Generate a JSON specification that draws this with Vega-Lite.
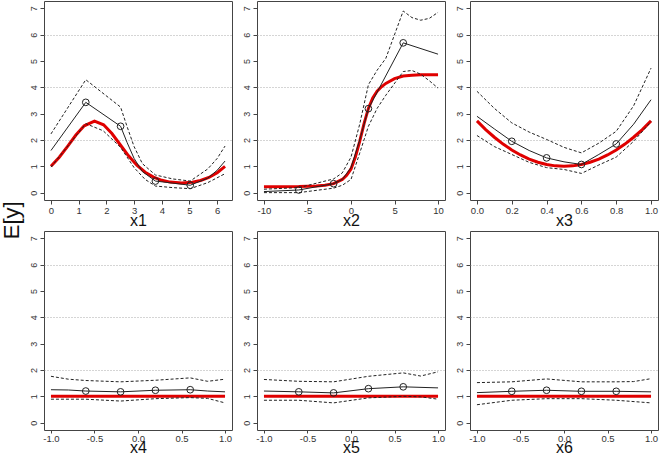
{
  "$schema": "https://vega.github.io/schema/vega-lite/v6.json",
  "padding": {"left": 0, "top": 0, "right": 0, "bottom": 0},
  "background": "white",
  "title": {"text": "E[y]", "orient": "left", "anchor": "middle", "fontSize": 22, "fontWeight": "normal", "font": "Liberation Sans", "color": "#111", "offset": 5, "dx": 8},
  "config": {
    "font": "Liberation Sans",
    "view": {"stroke": "#444", "strokeWidth": 1},
    "axis": {"domain": false, "tickColor": "#444", "tickSize": 4, "labelColor": "#333", "titleFontWeight": "normal", "titleColor": "#111", "labelFont": "Liberation Sans", "titleFont": "Liberation Sans"},
    "axisX": {"grid": false, "labelFontSize": 9.5, "labelPadding": 1, "titleFontSize": 16, "titlePadding": -2, "labelFlush": false, "labelExpr": "replace(datum.label, '\u2212', '-')"},
    "axisY": {"labelFontSize": 9, "labelAngle": -90, "labelPadding": 2, "gridColor": "#aaa", "gridDash": [1, 2], "gridWidth": 1}
  },
  "datasets": {
    "p1": [
      {"s": "true", "x": 0, "y": 1.0}, {"s": "true", "x": 0.3, "y": 1.344}, {"s": "true", "x": 0.6, "y": 1.759}, {"s": "true", "x": 0.9, "y": 2.189}, {"s": "true", "x": 1.2, "y": 2.54}, {"s": "true", "x": 1.571, "y": 2.718}, {"s": "true", "x": 1.9, "y": 2.576}, {"s": "true", "x": 2.2, "y": 2.245}, {"s": "true", "x": 2.5, "y": 1.819}, {"s": "true", "x": 2.8, "y": 1.398}, {"s": "true", "x": 3.1, "y": 1.042}, {"s": "true", "x": 3.4, "y": 0.775}, {"s": "true", "x": 3.7, "y": 0.589}, {"s": "true", "x": 4.0, "y": 0.469}, {"s": "true", "x": 4.3, "y": 0.4}, {"s": "true", "x": 4.712, "y": 0.368}, {"s": "true", "x": 5.1, "y": 0.396}, {"s": "true", "x": 5.4, "y": 0.462}, {"s": "true", "x": 5.7, "y": 0.577}, {"s": "true", "x": 6.0, "y": 0.756}, {"s": "true", "x": 6.283, "y": 1.0},
      {"s": "est", "x": 0, "y": 1.6}, {"s": "est", "x": 1.257, "y": 3.43}, {"s": "est", "x": 2.513, "y": 2.52}, {"s": "est", "x": 2.75, "y": 1.9}, {"s": "est", "x": 3.0, "y": 1.3}, {"s": "est", "x": 3.3, "y": 0.8}, {"s": "est", "x": 3.77, "y": 0.44}, {"s": "est", "x": 4.4, "y": 0.36}, {"s": "est", "x": 5.027, "y": 0.28}, {"s": "est", "x": 5.66, "y": 0.55}, {"s": "est", "x": 6.0, "y": 0.85}, {"s": "est", "x": 6.283, "y": 1.2},
      {"s": "hi", "x": 0, "y": 2.23}, {"s": "hi", "x": 1.257, "y": 4.29}, {"s": "hi", "x": 2.513, "y": 3.25}, {"s": "hi", "x": 2.75, "y": 2.5}, {"s": "hi", "x": 3.0, "y": 1.75}, {"s": "hi", "x": 3.3, "y": 1.1}, {"s": "hi", "x": 3.77, "y": 0.67}, {"s": "hi", "x": 4.4, "y": 0.52}, {"s": "hi", "x": 5.027, "y": 0.44}, {"s": "hi", "x": 5.66, "y": 0.9}, {"s": "hi", "x": 6.0, "y": 1.3}, {"s": "hi", "x": 6.283, "y": 1.77},
      {"s": "lo", "x": 0, "y": 0.97}, {"s": "lo", "x": 1.257, "y": 2.62}, {"s": "lo", "x": 1.885, "y": 2.35}, {"s": "lo", "x": 2.513, "y": 1.72}, {"s": "lo", "x": 3.0, "y": 0.95}, {"s": "lo", "x": 3.4, "y": 0.5}, {"s": "lo", "x": 3.77, "y": 0.25}, {"s": "lo", "x": 4.4, "y": 0.19}, {"s": "lo", "x": 5.027, "y": 0.15}, {"s": "lo", "x": 5.66, "y": 0.38}, {"s": "lo", "x": 6.283, "y": 0.72},
      {"s": "pt", "x": 1.257, "y": 3.43}, {"s": "pt", "x": 2.513, "y": 2.52}, {"s": "pt", "x": 3.77, "y": 0.44}, {"s": "pt", "x": 5.027, "y": 0.28}
    ],
    "p2": [
      {"s": "true", "x": -10, "y": 0.22}, {"s": "true", "x": -6, "y": 0.23}, {"s": "true", "x": -4, "y": 0.25}, {"s": "true", "x": -3, "y": 0.28}, {"s": "true", "x": -2, "y": 0.34}, {"s": "true", "x": -1, "y": 0.5}, {"s": "true", "x": -0.5, "y": 0.66}, {"s": "true", "x": 0, "y": 0.9}, {"s": "true", "x": 0.5, "y": 1.35}, {"s": "true", "x": 1, "y": 1.95}, {"s": "true", "x": 1.5, "y": 2.62}, {"s": "true", "x": 2, "y": 3.2}, {"s": "true", "x": 2.5, "y": 3.6}, {"s": "true", "x": 3, "y": 3.85}, {"s": "true", "x": 3.5, "y": 4.02}, {"s": "true", "x": 4, "y": 4.15}, {"s": "true", "x": 5, "y": 4.33}, {"s": "true", "x": 6, "y": 4.43}, {"s": "true", "x": 7, "y": 4.46}, {"s": "true", "x": 8, "y": 4.48}, {"s": "true", "x": 10, "y": 4.48},
      {"s": "est", "x": -10, "y": 0.04}, {"s": "est", "x": -6, "y": 0.1}, {"s": "est", "x": -2, "y": 0.34}, {"s": "est", "x": -1, "y": 0.5}, {"s": "est", "x": 0, "y": 0.95}, {"s": "est", "x": 1, "y": 2.0}, {"s": "est", "x": 2, "y": 3.19}, {"s": "est", "x": 6, "y": 5.69}, {"s": "est", "x": 10, "y": 5.26},
      {"s": "hi", "x": -10, "y": 0.13}, {"s": "hi", "x": -6, "y": 0.19}, {"s": "hi", "x": -2, "y": 0.52}, {"s": "hi", "x": -1, "y": 0.75}, {"s": "hi", "x": 0, "y": 1.35}, {"s": "hi", "x": 1, "y": 2.6}, {"s": "hi", "x": 2, "y": 4.1}, {"s": "hi", "x": 3, "y": 4.65}, {"s": "hi", "x": 4, "y": 5.1}, {"s": "hi", "x": 6, "y": 6.9}, {"s": "hi", "x": 7, "y": 6.65}, {"s": "hi", "x": 8, "y": 6.55}, {"s": "hi", "x": 9, "y": 6.62}, {"s": "hi", "x": 10, "y": 6.85},
      {"s": "lo", "x": -10, "y": 0.0}, {"s": "lo", "x": -6, "y": 0.0}, {"s": "lo", "x": -2, "y": 0.17}, {"s": "lo", "x": -1, "y": 0.28}, {"s": "lo", "x": 0, "y": 0.5}, {"s": "lo", "x": 1, "y": 1.5}, {"s": "lo", "x": 2, "y": 2.52}, {"s": "lo", "x": 3, "y": 3.2}, {"s": "lo", "x": 4, "y": 3.7}, {"s": "lo", "x": 6, "y": 4.6}, {"s": "lo", "x": 7, "y": 4.64}, {"s": "lo", "x": 8, "y": 4.5}, {"s": "lo", "x": 9, "y": 4.25}, {"s": "lo", "x": 10, "y": 3.97},
      {"s": "pt", "x": -6, "y": 0.1}, {"s": "pt", "x": -2, "y": 0.34}, {"s": "pt", "x": 2, "y": 3.19}, {"s": "pt", "x": 6, "y": 5.69}
    ],
    "p3": [
      {"s": "true", "x": 0, "y": 2.725}, {"s": "true", "x": 0.05, "y": 2.397}, {"s": "true", "x": 0.1, "y": 2.104}, {"s": "true", "x": 0.15, "y": 1.845}, {"s": "true", "x": 0.2, "y": 1.621}, {"s": "true", "x": 0.25, "y": 1.431}, {"s": "true", "x": 0.3, "y": 1.276}, {"s": "true", "x": 0.35, "y": 1.155}, {"s": "true", "x": 0.4, "y": 1.069}, {"s": "true", "x": 0.45, "y": 1.017}, {"s": "true", "x": 0.5, "y": 1.0}, {"s": "true", "x": 0.55, "y": 1.017}, {"s": "true", "x": 0.6, "y": 1.069}, {"s": "true", "x": 0.65, "y": 1.155}, {"s": "true", "x": 0.7, "y": 1.276}, {"s": "true", "x": 0.75, "y": 1.431}, {"s": "true", "x": 0.8, "y": 1.621}, {"s": "true", "x": 0.85, "y": 1.845}, {"s": "true", "x": 0.9, "y": 2.104}, {"s": "true", "x": 0.95, "y": 2.397}, {"s": "true", "x": 1.0, "y": 2.725},
      {"s": "est", "x": 0, "y": 2.9}, {"s": "est", "x": 0.1, "y": 2.42}, {"s": "est", "x": 0.2, "y": 1.95}, {"s": "est", "x": 0.3, "y": 1.6}, {"s": "est", "x": 0.4, "y": 1.32}, {"s": "est", "x": 0.5, "y": 1.17}, {"s": "est", "x": 0.6, "y": 1.07}, {"s": "est", "x": 0.7, "y": 1.45}, {"s": "est", "x": 0.8, "y": 1.85}, {"s": "est", "x": 0.9, "y": 2.6}, {"s": "est", "x": 1.0, "y": 3.53},
      {"s": "hi", "x": 0, "y": 3.85}, {"s": "hi", "x": 0.1, "y": 3.2}, {"s": "hi", "x": 0.2, "y": 2.65}, {"s": "hi", "x": 0.3, "y": 2.3}, {"s": "hi", "x": 0.4, "y": 2.02}, {"s": "hi", "x": 0.5, "y": 1.72}, {"s": "hi", "x": 0.6, "y": 1.51}, {"s": "hi", "x": 0.7, "y": 1.88}, {"s": "hi", "x": 0.8, "y": 2.33}, {"s": "hi", "x": 0.9, "y": 3.3}, {"s": "hi", "x": 1.0, "y": 4.73},
      {"s": "lo", "x": 0, "y": 2.17}, {"s": "lo", "x": 0.1, "y": 1.75}, {"s": "lo", "x": 0.2, "y": 1.45}, {"s": "lo", "x": 0.3, "y": 1.15}, {"s": "lo", "x": 0.4, "y": 0.95}, {"s": "lo", "x": 0.5, "y": 0.88}, {"s": "lo", "x": 0.6, "y": 0.73}, {"s": "lo", "x": 0.7, "y": 1.05}, {"s": "lo", "x": 0.8, "y": 1.35}, {"s": "lo", "x": 0.9, "y": 1.95}, {"s": "lo", "x": 1.0, "y": 2.7},
      {"s": "pt", "x": 0.2, "y": 1.95}, {"s": "pt", "x": 0.4, "y": 1.32}, {"s": "pt", "x": 0.6, "y": 1.07}, {"s": "pt", "x": 0.8, "y": 1.85}
    ],
    "p4": [
      {"s": "true", "x": -1, "y": 1.0}, {"s": "true", "x": 1, "y": 1.0},
      {"s": "est", "x": -1, "y": 1.25}, {"s": "est", "x": -0.8, "y": 1.24}, {"s": "est", "x": -0.6, "y": 1.2}, {"s": "est", "x": -0.2, "y": 1.17}, {"s": "est", "x": 0.2, "y": 1.23}, {"s": "est", "x": 0.6, "y": 1.25}, {"s": "est", "x": 0.8, "y": 1.2}, {"s": "est", "x": 1, "y": 1.17},
      {"s": "hi", "x": -1, "y": 1.76}, {"s": "hi", "x": -0.8, "y": 1.65}, {"s": "hi", "x": -0.6, "y": 1.6}, {"s": "hi", "x": -0.2, "y": 1.55}, {"s": "hi", "x": 0.2, "y": 1.61}, {"s": "hi", "x": 0.6, "y": 1.7}, {"s": "hi", "x": 0.8, "y": 1.57}, {"s": "hi", "x": 1, "y": 1.65},
      {"s": "lo", "x": -1, "y": 0.89}, {"s": "lo", "x": -0.6, "y": 0.89}, {"s": "lo", "x": -0.2, "y": 0.82}, {"s": "lo", "x": 0.2, "y": 0.91}, {"s": "lo", "x": 0.6, "y": 0.95}, {"s": "lo", "x": 0.8, "y": 0.92}, {"s": "lo", "x": 1, "y": 0.75},
      {"s": "pt", "x": -0.6, "y": 1.2}, {"s": "pt", "x": -0.2, "y": 1.17}, {"s": "pt", "x": 0.2, "y": 1.23}, {"s": "pt", "x": 0.6, "y": 1.25}
    ],
    "p5": [
      {"s": "true", "x": -1, "y": 1.0}, {"s": "true", "x": 1, "y": 1.0},
      {"s": "est", "x": -1, "y": 1.2}, {"s": "est", "x": -0.6, "y": 1.17}, {"s": "est", "x": -0.2, "y": 1.13}, {"s": "est", "x": 0.2, "y": 1.29}, {"s": "est", "x": 0.6, "y": 1.36}, {"s": "est", "x": 1, "y": 1.32},
      {"s": "hi", "x": -1, "y": 1.64}, {"s": "hi", "x": -0.6, "y": 1.57}, {"s": "hi", "x": -0.2, "y": 1.55}, {"s": "hi", "x": 0.2, "y": 1.76}, {"s": "hi", "x": 0.6, "y": 1.89}, {"s": "hi", "x": 0.8, "y": 1.77}, {"s": "hi", "x": 1, "y": 1.93},
      {"s": "lo", "x": -1, "y": 0.85}, {"s": "lo", "x": -0.6, "y": 0.85}, {"s": "lo", "x": -0.2, "y": 0.75}, {"s": "lo", "x": 0.2, "y": 0.94}, {"s": "lo", "x": 0.6, "y": 1.0}, {"s": "lo", "x": 0.8, "y": 0.98}, {"s": "lo", "x": 1, "y": 0.89},
      {"s": "pt", "x": -0.6, "y": 1.17}, {"s": "pt", "x": -0.2, "y": 1.13}, {"s": "pt", "x": 0.2, "y": 1.29}, {"s": "pt", "x": 0.6, "y": 1.36}
    ],
    "p6": [
      {"s": "true", "x": -1, "y": 1.0}, {"s": "true", "x": 1, "y": 1.0},
      {"s": "est", "x": -1, "y": 1.14}, {"s": "est", "x": -0.6, "y": 1.19}, {"s": "est", "x": -0.2, "y": 1.23}, {"s": "est", "x": 0.2, "y": 1.19}, {"s": "est", "x": 0.6, "y": 1.19}, {"s": "est", "x": 1, "y": 1.17},
      {"s": "hi", "x": -1, "y": 1.52}, {"s": "hi", "x": -0.6, "y": 1.55}, {"s": "hi", "x": -0.2, "y": 1.66}, {"s": "hi", "x": 0.2, "y": 1.55}, {"s": "hi", "x": 0.6, "y": 1.55}, {"s": "hi", "x": 0.8, "y": 1.56}, {"s": "hi", "x": 1, "y": 1.67},
      {"s": "lo", "x": -1, "y": 0.68}, {"s": "lo", "x": -0.6, "y": 0.85}, {"s": "lo", "x": -0.2, "y": 0.91}, {"s": "lo", "x": 0.2, "y": 0.91}, {"s": "lo", "x": 0.6, "y": 0.85}, {"s": "lo", "x": 1, "y": 0.75},
      {"s": "pt", "x": -0.6, "y": 1.19}, {"s": "pt", "x": -0.2, "y": 1.23}, {"s": "pt", "x": 0.2, "y": 1.19}, {"s": "pt", "x": 0.6, "y": 1.19}
    ]
  },
  "bounds": "flush",
  "columns": 3,
  "spacing": {"row": 31, "column": 25},
  "concat": [
    {
      "width": 188, "height": 199,
      "data": {"name": "p1"},
      "encoding": {
        "x": {"field": "x", "type": "quantitative", "scale": {"domain": [-0.251, 6.534], "nice": false, "zero": false}, "axis": {"values": [0, 1, 2, 3, 4, 5, 6], "format": "d", "title": "x1"}},
        "y": {"field": "y", "type": "quantitative", "scale": {"domain": [-0.28, 7.28], "nice": false, "zero": false}, "axis": {"values": [0, 1, 2, 3, 4, 5, 6, 7], "title": null, "gridOpacity": {"condition": {"test": "datum.value==2||datum.value==4||datum.value==6", "value": 1}, "value": 0}}}
      },
      "layer": [
        {"transform": [{"filter": "datum.s=='true'"}], "mark": {"type": "line", "color": "#e00000", "strokeWidth": 3}},
        {"transform": [{"filter": "datum.s=='lo'||datum.s=='hi'"}], "mark": {"type": "line", "color": "#222", "strokeWidth": 1, "strokeDash": [3, 2]}, "encoding": {"detail": {"field": "s"}}},
        {"transform": [{"filter": "datum.s=='est'"}], "mark": {"type": "line", "color": "#222", "strokeWidth": 1}},
        {"transform": [{"filter": "datum.s=='pt'"}], "mark": {"type": "point", "shape": "circle", "filled": false, "size": 45, "color": "#222", "strokeWidth": 1, "opacity": 1}}
      ]
    },
    {
      "width": 188, "height": 199,
      "data": {"name": "p2"},
      "encoding": {
        "x": {"field": "x", "type": "quantitative", "scale": {"domain": [-10.8, 10.8], "nice": false, "zero": false}, "axis": {"values": [-10, -5, 0, 5, 10], "format": "d", "title": "x2"}},
        "y": {"field": "y", "type": "quantitative", "scale": {"domain": [-0.28, 7.28], "nice": false, "zero": false}, "axis": {"values": [0, 1, 2, 3, 4, 5, 6, 7], "title": null, "gridOpacity": {"condition": {"test": "datum.value==2||datum.value==4||datum.value==6", "value": 1}, "value": 0}}}
      },
      "layer": [
        {"transform": [{"filter": "datum.s=='true'"}], "mark": {"type": "line", "color": "#e00000", "strokeWidth": 3}},
        {"transform": [{"filter": "datum.s=='lo'||datum.s=='hi'"}], "mark": {"type": "line", "color": "#222", "strokeWidth": 1, "strokeDash": [3, 2]}, "encoding": {"detail": {"field": "s"}}},
        {"transform": [{"filter": "datum.s=='est'"}], "mark": {"type": "line", "color": "#222", "strokeWidth": 1}},
        {"transform": [{"filter": "datum.s=='pt'"}], "mark": {"type": "point", "shape": "circle", "filled": false, "size": 45, "color": "#222", "strokeWidth": 1, "opacity": 1}}
      ]
    },
    {
      "width": 188, "height": 199,
      "data": {"name": "p3"},
      "encoding": {
        "x": {"field": "x", "type": "quantitative", "scale": {"domain": [-0.04, 1.04], "nice": false, "zero": false}, "axis": {"values": [0, 0.2, 0.4, 0.6, 0.8, 1], "format": ".1f", "title": "x3"}},
        "y": {"field": "y", "type": "quantitative", "scale": {"domain": [-0.28, 7.28], "nice": false, "zero": false}, "axis": {"values": [0, 1, 2, 3, 4, 5, 6, 7], "title": null, "gridOpacity": {"condition": {"test": "datum.value==2||datum.value==4||datum.value==6", "value": 1}, "value": 0}}}
      },
      "layer": [
        {"transform": [{"filter": "datum.s=='true'"}], "mark": {"type": "line", "color": "#e00000", "strokeWidth": 3}},
        {"transform": [{"filter": "datum.s=='lo'||datum.s=='hi'"}], "mark": {"type": "line", "color": "#222", "strokeWidth": 1, "strokeDash": [3, 2]}, "encoding": {"detail": {"field": "s"}}},
        {"transform": [{"filter": "datum.s=='est'"}], "mark": {"type": "line", "color": "#222", "strokeWidth": 1}},
        {"transform": [{"filter": "datum.s=='pt'"}], "mark": {"type": "point", "shape": "circle", "filled": false, "size": 45, "color": "#222", "strokeWidth": 1, "opacity": 1}}
      ]
    },
    {
      "width": 188, "height": 199,
      "data": {"name": "p4"},
      "encoding": {
        "x": {"field": "x", "type": "quantitative", "scale": {"domain": [-1.08, 1.08], "nice": false, "zero": false}, "axis": {"values": [-1, -0.5, 0, 0.5, 1], "format": ".1f", "title": "x4", "tickSize": 3, "labelPadding": 0, "titlePadding": -3}},
        "y": {"field": "y", "type": "quantitative", "scale": {"domain": [-0.28, 7.28], "nice": false, "zero": false}, "axis": {"values": [0, 1, 2, 3, 4, 5, 6, 7], "title": null, "gridOpacity": {"condition": {"test": "datum.value==2||datum.value==4||datum.value==6", "value": 1}, "value": 0}}}
      },
      "layer": [
        {"transform": [{"filter": "datum.s=='true'"}], "mark": {"type": "line", "color": "#e00000", "strokeWidth": 3}},
        {"transform": [{"filter": "datum.s=='lo'||datum.s=='hi'"}], "mark": {"type": "line", "color": "#222", "strokeWidth": 1, "strokeDash": [3, 2]}, "encoding": {"detail": {"field": "s"}}},
        {"transform": [{"filter": "datum.s=='est'"}], "mark": {"type": "line", "color": "#222", "strokeWidth": 1}},
        {"transform": [{"filter": "datum.s=='pt'"}], "mark": {"type": "point", "shape": "circle", "filled": false, "size": 45, "color": "#222", "strokeWidth": 1, "opacity": 1}}
      ]
    },
    {
      "width": 188, "height": 199,
      "data": {"name": "p5"},
      "encoding": {
        "x": {"field": "x", "type": "quantitative", "scale": {"domain": [-1.08, 1.08], "nice": false, "zero": false}, "axis": {"values": [-1, -0.5, 0, 0.5, 1], "format": ".1f", "title": "x5", "tickSize": 3, "labelPadding": 0, "titlePadding": -3}},
        "y": {"field": "y", "type": "quantitative", "scale": {"domain": [-0.28, 7.28], "nice": false, "zero": false}, "axis": {"values": [0, 1, 2, 3, 4, 5, 6, 7], "title": null, "gridOpacity": {"condition": {"test": "datum.value==2||datum.value==4||datum.value==6", "value": 1}, "value": 0}}}
      },
      "layer": [
        {"transform": [{"filter": "datum.s=='true'"}], "mark": {"type": "line", "color": "#e00000", "strokeWidth": 3}},
        {"transform": [{"filter": "datum.s=='lo'||datum.s=='hi'"}], "mark": {"type": "line", "color": "#222", "strokeWidth": 1, "strokeDash": [3, 2]}, "encoding": {"detail": {"field": "s"}}},
        {"transform": [{"filter": "datum.s=='est'"}], "mark": {"type": "line", "color": "#222", "strokeWidth": 1}},
        {"transform": [{"filter": "datum.s=='pt'"}], "mark": {"type": "point", "shape": "circle", "filled": false, "size": 45, "color": "#222", "strokeWidth": 1, "opacity": 1}}
      ]
    },
    {
      "width": 188, "height": 199,
      "data": {"name": "p6"},
      "encoding": {
        "x": {"field": "x", "type": "quantitative", "scale": {"domain": [-1.08, 1.08], "nice": false, "zero": false}, "axis": {"values": [-1, -0.5, 0, 0.5, 1], "format": ".1f", "title": "x6", "tickSize": 3, "labelPadding": 0, "titlePadding": -3}},
        "y": {"field": "y", "type": "quantitative", "scale": {"domain": [-0.28, 7.28], "nice": false, "zero": false}, "axis": {"values": [0, 1, 2, 3, 4, 5, 6, 7], "title": null, "gridOpacity": {"condition": {"test": "datum.value==2||datum.value==4||datum.value==6", "value": 1}, "value": 0}}}
      },
      "layer": [
        {"transform": [{"filter": "datum.s=='true'"}], "mark": {"type": "line", "color": "#e00000", "strokeWidth": 3}},
        {"transform": [{"filter": "datum.s=='lo'||datum.s=='hi'"}], "mark": {"type": "line", "color": "#222", "strokeWidth": 1, "strokeDash": [3, 2]}, "encoding": {"detail": {"field": "s"}}},
        {"transform": [{"filter": "datum.s=='est'"}], "mark": {"type": "line", "color": "#222", "strokeWidth": 1}},
        {"transform": [{"filter": "datum.s=='pt'"}], "mark": {"type": "point", "shape": "circle", "filled": false, "size": 45, "color": "#222", "strokeWidth": 1, "opacity": 1}}
      ]
    }
  ]
}
